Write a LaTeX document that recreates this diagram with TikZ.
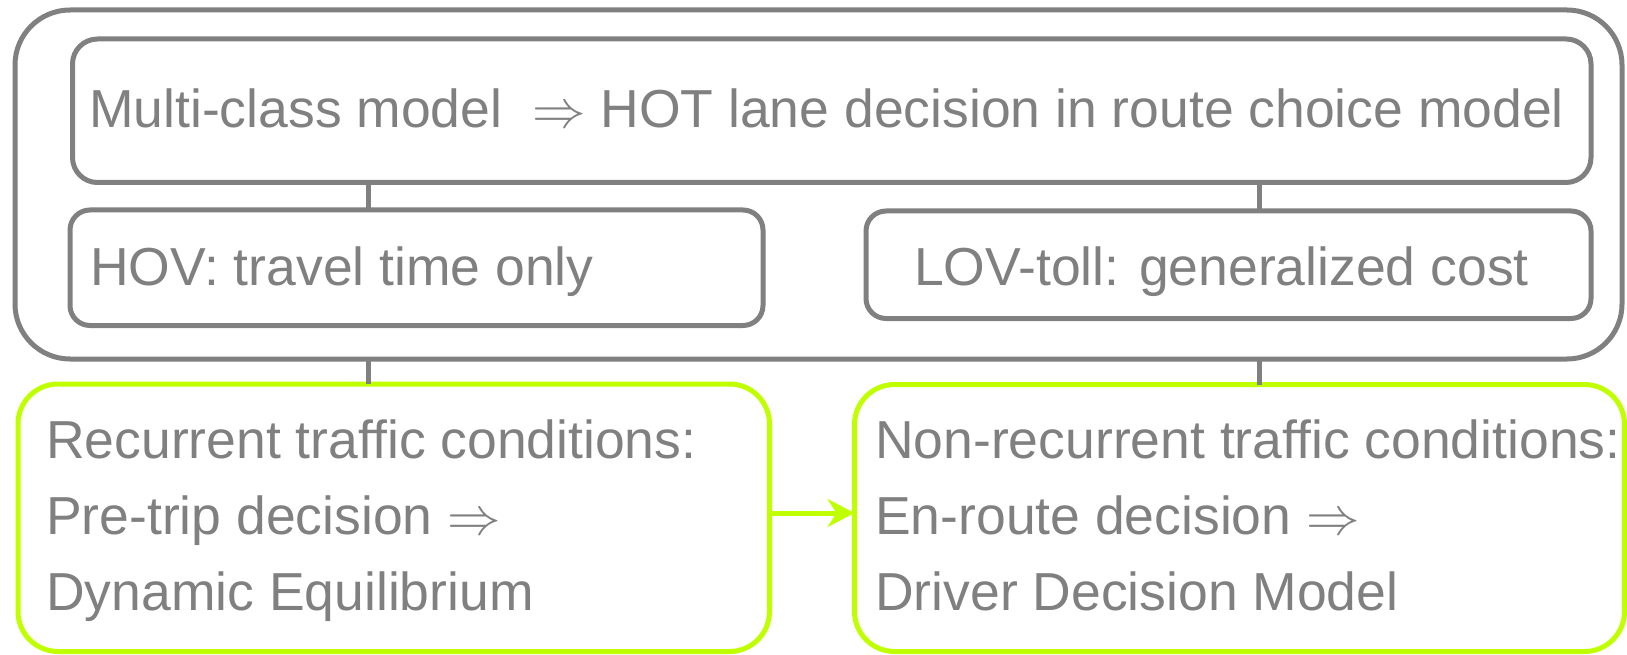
\RequirePackage{fix-cm}
\documentclass[tikz,border=0pt]{standalone}
\usepackage{fontspec}
\setmainfont{Liberation Sans}
\usetikzlibrary{arrows.meta}
\definecolor{lgray}{RGB}{128,128,128}
\definecolor{limeg}{RGB}{191,255,0}
\newcommand{\imp}{$\Rightarrow$}
\tikzset{
  graybox/.style={draw=lgray, line width=5pt, inner sep=0pt, outer sep=0pt},
  limebox/.style={draw=limeg, line width=5pt, inner sep=0pt, outer sep=0pt, rounded corners=40pt},
  gline/.style={draw=lgray, line width=5pt},
  txt/.style={text=lgray, font=\fontsize{53.5}{64}\selectfont, inner sep=0pt, anchor=base west},
}
\begin{document}
\begin{tikzpicture}[x=1pt,y=-1pt]
\useasboundingbox (0,0) rectangle (1627,655);
% boxes
\node[graybox, rounded corners=55pt, minimum width=1607pt, minimum height=349pt] (outer) at (818.5,184.5) {};
\node[graybox, rounded corners=25pt, minimum width=1518.5pt, minimum height=143.5pt] (top) at (831.75,110.75) {};
\node[graybox, rounded corners=20pt, minimum width=693pt, minimum height=115.5pt] (hov) at (416.5,267.75) {};
\node[graybox, rounded corners=20pt, minimum width=725pt, minimum height=107.5pt] (lov) at (1228.5,264.75) {};
\node[limebox, minimum width=751.5pt, minimum height=267.5pt] (gl) at (393.75,517.75) {};
\node[limebox, minimum width=770pt, minimum height=267pt] (gr) at (1239.5,518) {};
% connector positions
\coordinate (cl) at (368,0);
\coordinate (cr) at (1259,0);
\coordinate (ay) at (0,513);
\draw[gline] (top.south -| cl) -- (hov.north -| cl);
\draw[gline] (top.south -| cr) -- (lov.north -| cr);
\draw[gline] (outer.south -| cl) -- (gl.north -| cl);
\draw[gline] (outer.south -| cr) -- (gr.north -| cr);
\draw[draw=limeg, line width=5pt, -{Stealth[length=27pt,width=28pt,inset=9pt]}] (gl.east |- ay) -- (gr.west |- ay);
% texts
\node[txt] (t1) at (89,128) {Multi-class model\ \ \imp{} HOT lane decision in route choice model};
\node[txt] (t2) at (90,285) {HOV: travel time only};
\node[txt] (t3) at (914,285) {LOV-toll: generalized cost};
\node[txt] (t4) at (46,458) {Recurrent traffic conditions:};
\node[txt] (t5) at (46,534) {Pre-trip decision \imp};
\node[txt] (t6) at (46,610) {Dynamic Equilibrium};
\node[txt] (t7) at (875,458) {Non-recurrent traffic conditions:};
\node[txt] (t8) at (875,534) {En-route decision \imp};
\node[txt] (t9) at (875,610) {Driver Decision Model};
\end{tikzpicture}
\end{document}
